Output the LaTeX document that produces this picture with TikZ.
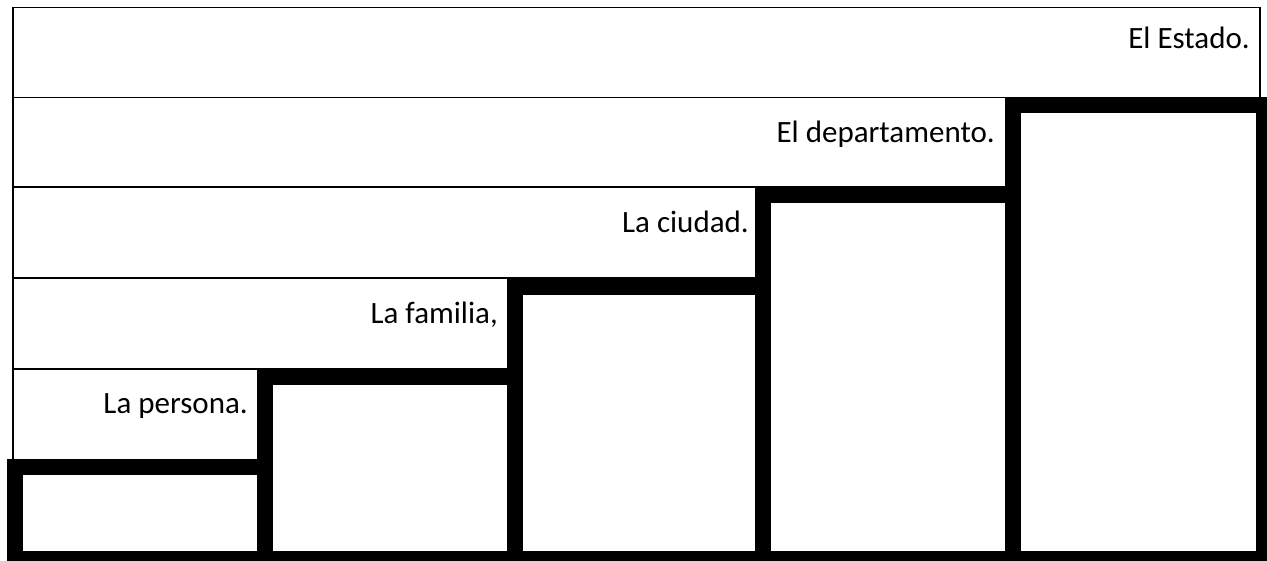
\documentclass[tikz,border=0pt]{standalone}
\usepackage{fontspec}
\setmainfont{Carlito}
\tikzset{
  rowbox/.style={draw=black, line width=1.3pt},
  stepbox/.style={draw=black, line width=16pt, fill=white},
  lbl/.style={anchor=base east, inner sep=0pt, font=\fontsize{31}{37}\selectfont}
}
\begin{document}
\begin{tikzpicture}[x=1pt,y=-1pt]
\useasboundingbox (0,0) rectangle (1267,560);
% rows
\draw[rowbox] (13,7.5) rectangle (1260,97.7);
\draw[rowbox] (13,97.7) rectangle (1013,187);
\draw[rowbox] (13,187) rectangle (763,278);
\draw[rowbox] (13,278) rectangle (515,369);
\draw[rowbox] (13,369) rectangle (265,467);
% steps
\draw[stepbox] (14.5,467) rectangle (265,559);
\draw[stepbox] (265,377) rectangle (515,559);
\draw[stepbox] (515,287) rectangle (763,559);
\draw[stepbox] (763,195) rectangle (1013,559);
\draw[stepbox] (1013,105) rectangle (1264,559);
% labels
\node[lbl] (estado) at (1250,48) {El Estado.};
\node[lbl] (depto) at (995,142) {El departamento.};
\node[lbl] (ciudad) at (749,232) {La ciudad.};
\node[lbl] (familia) at (498,323) {La familia,};
\node[lbl] (persona) at (248,413) {La persona.};
\end{tikzpicture}
\end{document}
